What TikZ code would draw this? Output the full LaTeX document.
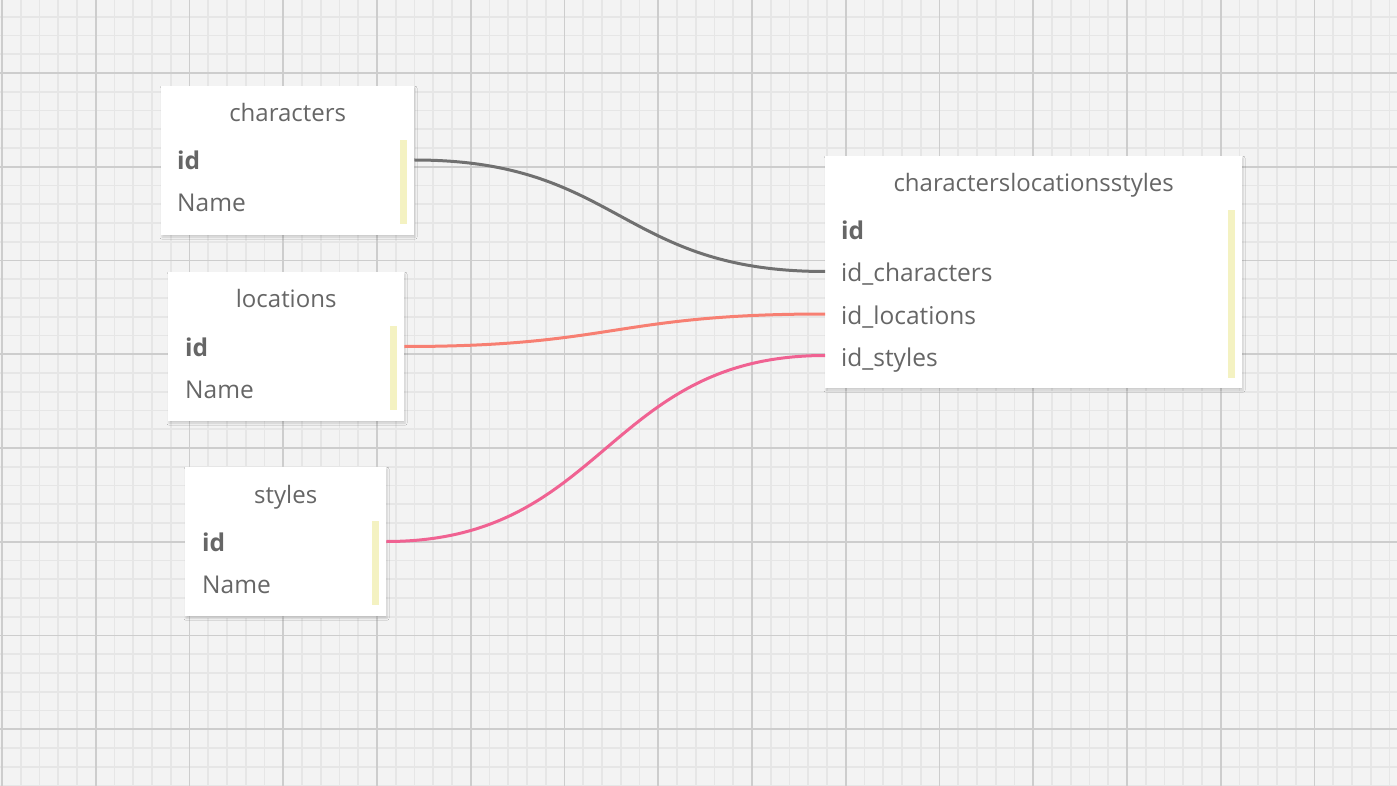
\documentclass[tikz,border=0pt]{standalone}
\usepackage{fontspec}
\setmainfont{Open Sans}
\usetikzlibrary{calc,shadows.blur}
\definecolor{bg}{HTML}{F3F3F3}
\definecolor{minorc}{HTML}{E6E6E6}
\definecolor{majorc}{HTML}{CDCDCD}
\definecolor{txt}{HTML}{666666}
\definecolor{barc}{HTML}{F4F2C2}
\definecolor{lgray}{HTML}{707070}
\definecolor{lsalmon}{HTML}{F77F72}
\definecolor{lpink}{HTML}{F06292}
\begin{document}
\begin{tikzpicture}[x=1pt,y=-1pt,
 tablebox/.style={draw=none, fill=white, anchor=north west, inner sep=0pt,
   blur shadow={shadow xshift=0.8pt, shadow yshift=-2pt, shadow blur radius=2pt, shadow opacity=16}},
 ttl/.style={anchor=base, inner sep=0pt, text=txt, font=\fontsize{24}{28}\selectfont},
 fld/.style={anchor=base west, inner sep=0pt, text=txt, font=\fontsize{24.5}{28}\selectfont},
 key/.style={anchor=base west, inner sep=0pt, text=txt, font=\fontsize{24.5}{28}\selectfont\bfseries},
 bar/.style={fill=barc, draw=none},
 rel/.style={line width=3pt},
 minorline/.style={draw=minorc, line width=1.6pt},
 majorline/.style={draw=majorc, line width=1.8pt},
]
\useasboundingbox (0,0) rectangle (1397,786);
\fill[bg] (0,0) rectangle (1397,786);
% grid
\foreach \i in {0,...,74} { \draw[minorline] ({2+18.75*\i},0) -- ({2+18.75*\i},786); }
\foreach \j in {0,...,42} { \draw[minorline] (0,{-2+18.75*\j}) -- (1397,{-2+18.75*\j}); }
\foreach \k in {0,...,14} { \draw[majorline] ({2+93.75*\k},0) -- ({2+93.75*\k},786); }
\foreach \k in {0,...,9} { \draw[majorline] (0,{-20.75+93.75*\k}) -- (1397,{-20.75+93.75*\k}); }

% tables
\node[tablebox, minimum width=253pt, minimum height=149pt] (chars) at (161,86) {};
\node[ttl] (charsT) at ($(chars.north)+(0,36)$) {characters};
\node[key] (charsId) at ($(chars.north west)+(16,84)$) {id};
\node[fld] (charsName) at ($(chars.north west)+(16,126)$) {Name};
\fill[bar] ($(chars.north east)+(-14,54)$) rectangle ++(7,84);

\node[tablebox, minimum width=236pt, minimum height=149pt] (locs) at (168,272) {};
\node[ttl] (locsT) at ($(locs.north)+(0,36)$) {locations};
\node[key] (locsId) at ($(locs.north west)+(17,84)$) {id};
\node[fld] (locsName) at ($(locs.north west)+(17,126)$) {Name};
\fill[bar] ($(locs.north east)+(-14,54)$) rectangle ++(7,84);

\node[tablebox, minimum width=201pt, minimum height=149pt] (stys) at (185,467) {};
\node[ttl] (stysT) at ($(stys.north)+(0,36)$) {styles};
\node[key] (stysId) at ($(stys.north west)+(17,84)$) {id};
\node[fld] (stysName) at ($(stys.north west)+(17,126)$) {Name};
\fill[bar] ($(stys.north east)+(-14,54)$) rectangle ++(7,84);

\node[tablebox, minimum width=417pt, minimum height=232pt] (cls) at (825,156) {};
\node[ttl] (clsT) at ($(cls.north)+(0,36)$) {characterslocationsstyles};
\node[key] (clsId) at ($(cls.north west)+(16,84)$) {id};
\node[fld] (clsC) at ($(cls.north west)+(16,126)$) {id\_characters};
\node[fld] (clsL) at ($(cls.north west)+(16,168)$) {id\_locations};
\node[fld] (clsS) at ($(cls.north west)+(16,210)$) {id\_styles};
\fill[bar] ($(cls.north east)+(-14,54)$) rectangle ++(7,168);

% connectors
\coordinate (a1) at ($(chars.east |- charsId.base)+(0,-10)$);
\coordinate (b1) at ($(cls.west |- clsC.base)+(0,-10.5)$);
\coordinate (m1) at ($(a1)!0.5!(b1)$);
\coordinate (a2) at ($(locs.east |- locsId.base)+(0,-9.5)$);
\coordinate (b2) at ($(cls.west |- clsL.base)+(0,-10)$);
\coordinate (m2) at ($(a2)!0.5!(b2)$);
\coordinate (a3) at ($(stys.east |- stysId.base)+(0,-9.5)$);
\coordinate (b3) at ($(cls.west |- clsS.base)+(0,-10.5)$);
\coordinate (m3) at ($(a3)!0.5!(b3)$);
\draw[rel, lgray] (a1) .. controls (m1 |- a1) and (m1 |- b1) .. (b1);
\draw[rel, lsalmon] (a2) .. controls (m2 |- a2) and (m2 |- b2) .. (b2);
\draw[rel, lpink] (a3) .. controls (m3 |- a3) and (m3 |- b3) .. (b3);
\end{tikzpicture}
\end{document}
